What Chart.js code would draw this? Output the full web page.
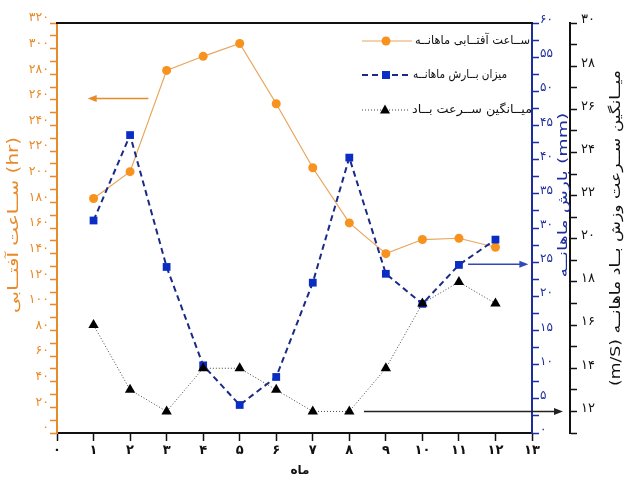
<!DOCTYPE html>
<html>
<head>
<meta charset="utf-8">
<script src="https://cdn.jsdelivr.net/npm/chart.js@4.4.1/dist/chart.umd.min.js"></script>
<style>
  html, body { margin: 0; padding: 0; background: #fff; }
  #wrap { width: 625px; height: 485px; position: relative; }
</style>
</head>
<body>
<div id="wrap"><canvas id="chart"></canvas></div>
<script>
// --- data ---
const months = [1, 2, 3, 4, 5, 6, 7, 8, 9, 10, 11, 12];
const sunshine = [183, 204, 283, 294, 304, 257, 207, 164, 140, 151, 152, 145];   // hr
const rainfall = [31.1, 43.6, 24.3, 9.9, 4.1, 8.2, 22.0, 40.3, 23.3, 18.9, 24.6, 28.3]; // mm
const windSpeed = [16, 13, 12, 14, 14, 13, 12, 12, 14, 17, 18, 17];               // m/s

const monthTicks = [0, 1, 2, 3, 4, 5, 6, 7, 8, 9, 10, 11, 12, 13];
const sunTicks = [0, 20, 40, 60, 80, 100, 120, 140, 160, 180, 200, 220, 240, 260, 280, 300, 320];
const rainTicks = [0, 5, 10, 15, 20, 25, 30, 35, 40, 45, 50, 55, 60];
const windTicks = [12, 14, 16, 18, 20, 22, 24, 26, 28, 30];

const seriesNames = ['ســاعت آفتــابی ماهانــه', 'میزان بــارش ماهانــه', 'میــانگین ســرعت بــاد'];

const ORANGE = '#E98A2A';
const ORANGE_LINE = '#E9A55C';
const ORANGE_DOT = '#F7921E';
const BLUE = '#1C2E9E';
const BLUE_LINE = '#1A2A86';
const BLUE_DOT = '#0A2DC4';
const BLACK = '#111111';
const FONT = '"DejaVu Sans", sans-serif';

const toFa = n => String(n).replace(/\d/g, d => '۰۱۲۳۴۵۶۷۸۹'[d]);
const pts = vals => months.map((m, i) => ({ x: m, y: vals[i] }));

function drawArrow(ctx, x1, y1, x2, y2, color) {
  const a = Math.atan2(y2 - y1, x2 - x1);
  ctx.save();
  ctx.strokeStyle = color;
  ctx.fillStyle = color;
  ctx.lineWidth = 1.5;
  ctx.beginPath();
  ctx.moveTo(x1, y1);
  ctx.lineTo(x2 - 7 * Math.cos(a), y2 - 7 * Math.sin(a));
  ctx.stroke();
  ctx.beginPath();
  ctx.moveTo(x2, y2);
  ctx.lineTo(x2 - 9 * Math.cos(a) + 3.5 * Math.sin(a), y2 - 9 * Math.sin(a) - 3.5 * Math.cos(a));
  ctx.lineTo(x2 - 9 * Math.cos(a) - 3.5 * Math.sin(a), y2 - 9 * Math.sin(a) + 3.5 * Math.cos(a));
  ctx.closePath();
  ctx.fill();
  ctx.restore();
}

function drawMarker(ctx, kind, x, y, color) {
  ctx.save();
  ctx.fillStyle = color;
  ctx.beginPath();
  if (kind === 'circle') {
    ctx.arc(x, y, 4.5, 0, Math.PI * 2);
  } else if (kind === 'rect') {
    ctx.rect(x - 4, y - 4, 8, 8);
  } else {
    ctx.moveTo(x, y - 5.5);
    ctx.lineTo(x + 5, y + 3.5);
    ctx.lineTo(x - 5, y + 3.5);
    ctx.closePath();
  }
  ctx.fill();
  ctx.restore();
}

// text stretched into a given length (the original uses kashida-stretched lettering)
function fitText(ctx, text, cx, cy, len, font, color, rotate, dir) {
  ctx.save();
  ctx.font = font;
  ctx.fillStyle = color;
  ctx.direction = dir || 'ltr';
  ctx.textAlign = 'center';
  ctx.textBaseline = 'middle';
  const w = ctx.measureText(text).width;
  ctx.translate(cx, cy);
  if (rotate) ctx.rotate(-Math.PI / 2);
  ctx.scale(len / w, 1);
  ctx.fillText(text, 0, 0);
  ctx.restore();
}

const decor = {
  id: 'decor',
  afterDatasetsDraw(chart) {
    const { ctx, chartArea: ca, scales } = chart;
    const x = scales.x;

    // top frame
    ctx.save();
    ctx.strokeStyle = BLACK;
    ctx.lineWidth = 2;
    ctx.beginPath();
    ctx.moveTo(ca.left - 1, ca.top);
    ctx.lineTo(ca.right + 1, ca.top);
    ctx.stroke();
    ctx.restore();

    // arrows pointing to each series' axis
    drawArrow(ctx, x.getPixelForValue(2.5), scales.ySun.getPixelForValue(261),
      x.getPixelForValue(0.84), scales.ySun.getPixelForValue(261), ORANGE);
    drawArrow(ctx, x.getPixelForValue(11.25), scales.yRain.getPixelForValue(24.7),
      x.getPixelForValue(12.9), scales.yRain.getPixelForValue(24.7), '#3348B8');
    drawArrow(ctx, x.getPixelForValue(8.4), scales.yWind.getPixelForValue(12),
      scales.yWind.left - 7, scales.yWind.getPixelForValue(12), '#222');

    // legend
    const rows = [
      { y: 41, x1: 362, x2: 412, mx: 386, l: 415, r: 530, color: ORANGE_LINE, width: 1, dash: [], mk: 'circle', mc: ORANGE_DOT },
      { y: 75, x1: 362, x2: 409, mx: 386, l: 413, r: 507, color: BLUE_LINE, width: 2, dash: [6, 4], mk: 'rect', mc: BLUE_DOT },
      { y: 110, x1: 362, x2: 410, mx: 385, l: 412, r: 532, color: '#444', width: 1, dash: [1, 2], mk: 'tri', mc: '#000' }
    ];
    rows.forEach((row, i) => {
      ctx.save();
      ctx.strokeStyle = row.color;
      ctx.lineWidth = row.width;
      ctx.setLineDash(row.dash);
      ctx.beginPath();
      ctx.moveTo(row.x1, row.y);
      ctx.lineTo(row.x2, row.y);
      ctx.stroke();
      ctx.restore();
      drawMarker(ctx, row.mk, row.mx, row.y, row.mc);
      fitText(ctx, seriesNames[i], (row.l + row.r) / 2, row.y, row.r - row.l, '12px ' + FONT, '#111', false, 'rtl');
    });

    // axis titles
    fitText(ctx, 'ســاعت آفتــابی (hr)', 14, 225, 176, '15px ' + FONT, ORANGE, true, 'ltr');
    fitText(ctx, 'بارش ماهانــه (mm)', 564, 195, 165, '13px ' + FONT, BLUE, true, 'ltr');
    fitText(ctx, 'میــانگین ســرعت وزش بــاد ماهانــه (m/S)', 616, 228, 316, '14px ' + FONT, BLACK, true, 'rtl');
    ctx.save();
    ctx.font = 'bold 12px ' + FONT;
    ctx.fillStyle = BLACK;
    ctx.textAlign = 'center';
    ctx.textBaseline = 'middle';
    ctx.fillText('ماه', 300, 471);
    ctx.restore();
  }
};

function yAxis(pos, min, max, step, labels, color, width, weight, offset, size, pad) {
  return {
    type: 'linear',
    position: pos,
    min: min,
    max: max,
    weight: weight,
    border: { display: true, color: color, width: 2 },
    grid: { display: true, drawOnChartArea: false, drawTicks: true, tickLength: 7, color: color, tickWidth: 1.5 },
    ticks: {
      stepSize: step,
      autoSkip: false,
      maxTicksLimit: 100,
      padding: pad,
      labelOffset: offset,
      color: color,
      font: { family: FONT, size: size },
      callback: v => labels.includes(v) ? toFa(v) : ''
    },
    afterFit: s => { s.width = width; }
  };
}

new Chart(document.getElementById('chart'), {
  type: 'line',
  data: {
    datasets: [
      {
        label: seriesNames[0], data: pts(sunshine), yAxisID: 'ySun', order: 2,
        borderColor: ORANGE_LINE, borderWidth: 1.2, backgroundColor: ORANGE_DOT,
        pointStyle: 'circle', pointRadius: 4.5, pointBorderWidth: 0, pointBackgroundColor: ORANGE_DOT
      },
      {
        label: seriesNames[1], data: pts(rainfall), yAxisID: 'yRain', order: 1,
        borderColor: BLUE_LINE, borderWidth: 2, borderDash: [6, 4], backgroundColor: BLUE_DOT,
        pointStyle: 'rect', pointRadius: 5.5, pointBorderWidth: 0, pointBackgroundColor: BLUE_DOT
      },
      {
        label: seriesNames[2], data: pts(windSpeed), yAxisID: 'yWind', order: 0,
        borderColor: '#444', borderWidth: 1, borderDash: [1, 2], backgroundColor: '#000',
        pointStyle: 'triangle', pointRadius: 6, pointBorderWidth: 0, pointBackgroundColor: '#000'
      }
    ]
  },
  options: {
    responsive: true,
    maintainAspectRatio: false,
    animation: false,
    layout: { padding: { top: 23, left: 0, right: 0, bottom: 0 } },
    plugins: { legend: { display: false }, tooltip: { enabled: false } },
    scales: {
      x: {
        type: 'linear',
        min: 0,
        max: 13,
        border: { display: true, color: BLACK, width: 2 },
        grid: { display: true, drawOnChartArea: false, drawTicks: true, tickLength: 8, color: BLACK, tickWidth: 1.5 },
        ticks: {
          stepSize: 1,
          autoSkip: false,
          maxRotation: 0,
          padding: 2,
          color: BLACK,
          font: { family: FONT, size: 13, weight: 'bold' },
          callback: v => monthTicks.includes(v) ? toFa(v) : ''
        },
        afterFit: s => { s.height = 52; }
      },
      ySun: yAxis('left', 0, 320, 10, sunTicks, ORANGE, 57, 0, -5, 12.5, 1),
      yRain: yAxis('right', 0, 60, 2.5, rainTicks, BLUE, 38, 0, -3, 12, 1),
      yWind: yAxis('right', 11, 30, 1, windTicks, BLACK, 55, 1, -3, 13, 4)
    }
  },
  plugins: [decor]
});
</script>
</body>
</html>
